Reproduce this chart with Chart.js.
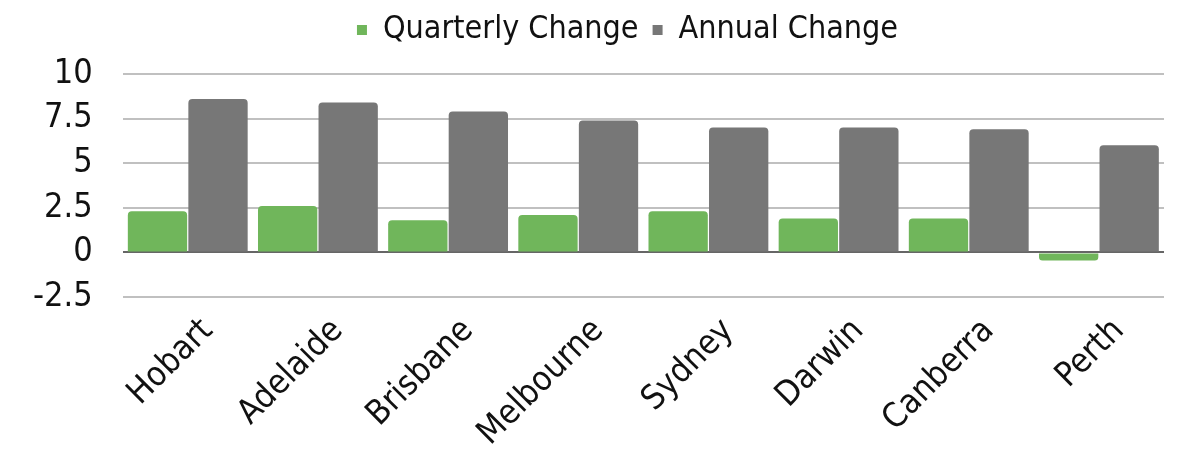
<!DOCTYPE html>
<html>
<head>
<meta charset="utf-8">
<script src="https://cdn.jsdelivr.net/npm/chart.js@4/dist/chart.umd.min.js"></script>
<style>
  html, body { margin: 0; padding: 0; background: #fff; }
  #wrap { width: 1180px; height: 460px; }
</style>
</head>
<body>
<div id="wrap"><canvas id="chart"></canvas></div>
<script>
var cities = ['Hobart', 'Adelaide', 'Brisbane', 'Melbourne', 'Sydney', 'Darwin', 'Canberra', 'Perth'];
var quarterlyChange = [2.3, 2.6, 1.8, 2.1, 2.3, 1.9, 1.9, -0.45];
var annualChange = [8.6, 8.4, 7.9, 7.4, 7.0, 7.0, 6.9, 6.0];

var font = '"Liberation Sans Narrow", "DejaVu Sans Condensed", "Roboto Condensed", sans-serif';
Chart.defaults.font.family = font;
Chart.defaults.color = '#111';

// legend sits a bit right of centre and has extra room under it
var legendTweak = {
  id: 'legendTweak',
  beforeLayout: function (chart) {
    var lg = chart.legend;
    if (lg && !lg._patched) {
      var fit = lg.fit;
      lg.fit = function () {
        fit.call(this);
        this.height += 18;
      };
      lg._patched = true;
    }
  },
  afterLayout: function (chart) {
    chart.legend.left += 44;
    chart.legend.right += 44;
  }
};

var ctx = document.getElementById('chart').getContext('2d');

var chart = new Chart(ctx, {
  type: 'bar',
  data: {
    labels: cities,
    datasets: [{
      label: 'Quarterly Change',
      data: quarterlyChange,
      backgroundColor: '#70b65b',
      borderRadius: 4,
      borderSkipped: 'start',
      barPercentage: 0.98,
      categoryPercentage: 0.93
    }, {
      label: 'Annual Change',
      data: annualChange,
      backgroundColor: '#777777',
      borderRadius: 4,
      borderSkipped: 'start',
      barPercentage: 0.98,
      categoryPercentage: 0.93
    }]
  },
  options: {
    responsive: true,
    maintainAspectRatio: false,
    animation: false,
    layout: { padding: { left: 3, right: 16, top: 0, bottom: 0 } },
    plugins: {
      legend: {
        position: 'top',
        labels: {
          boxWidth: 10,
          boxHeight: 10,
          padding: 14,
          font: { size: 32 },
          color: '#111'
        }
      },
      tooltip: { enabled: false }
    },
    scales: {
      x: {
        grid: { display: false },
        border: { display: false },
        ticks: {
          autoSkip: false,
          maxRotation: 45,
          minRotation: 45,
          padding: 6,
          labelOffset: 20,
          font: { size: 34 },
          color: '#111'
        }
      },
      y: {
        min: -2.5,
        max: 10,
        border: { display: false },
        grid: {
          drawTicks: false,
          color: function (c) { return c.tick && c.tick.value === 0 ? '#666666' : '#c0c0c0'; },
          lineWidth: 2
        },
        ticks: {
          stepSize: 2.5,
          autoSkip: false,
          padding: 30,
          font: { size: 34 },
          color: '#111'
        }
      }
    }
  },
  plugins: [legendTweak]
});
</script>
</body>
</html>
